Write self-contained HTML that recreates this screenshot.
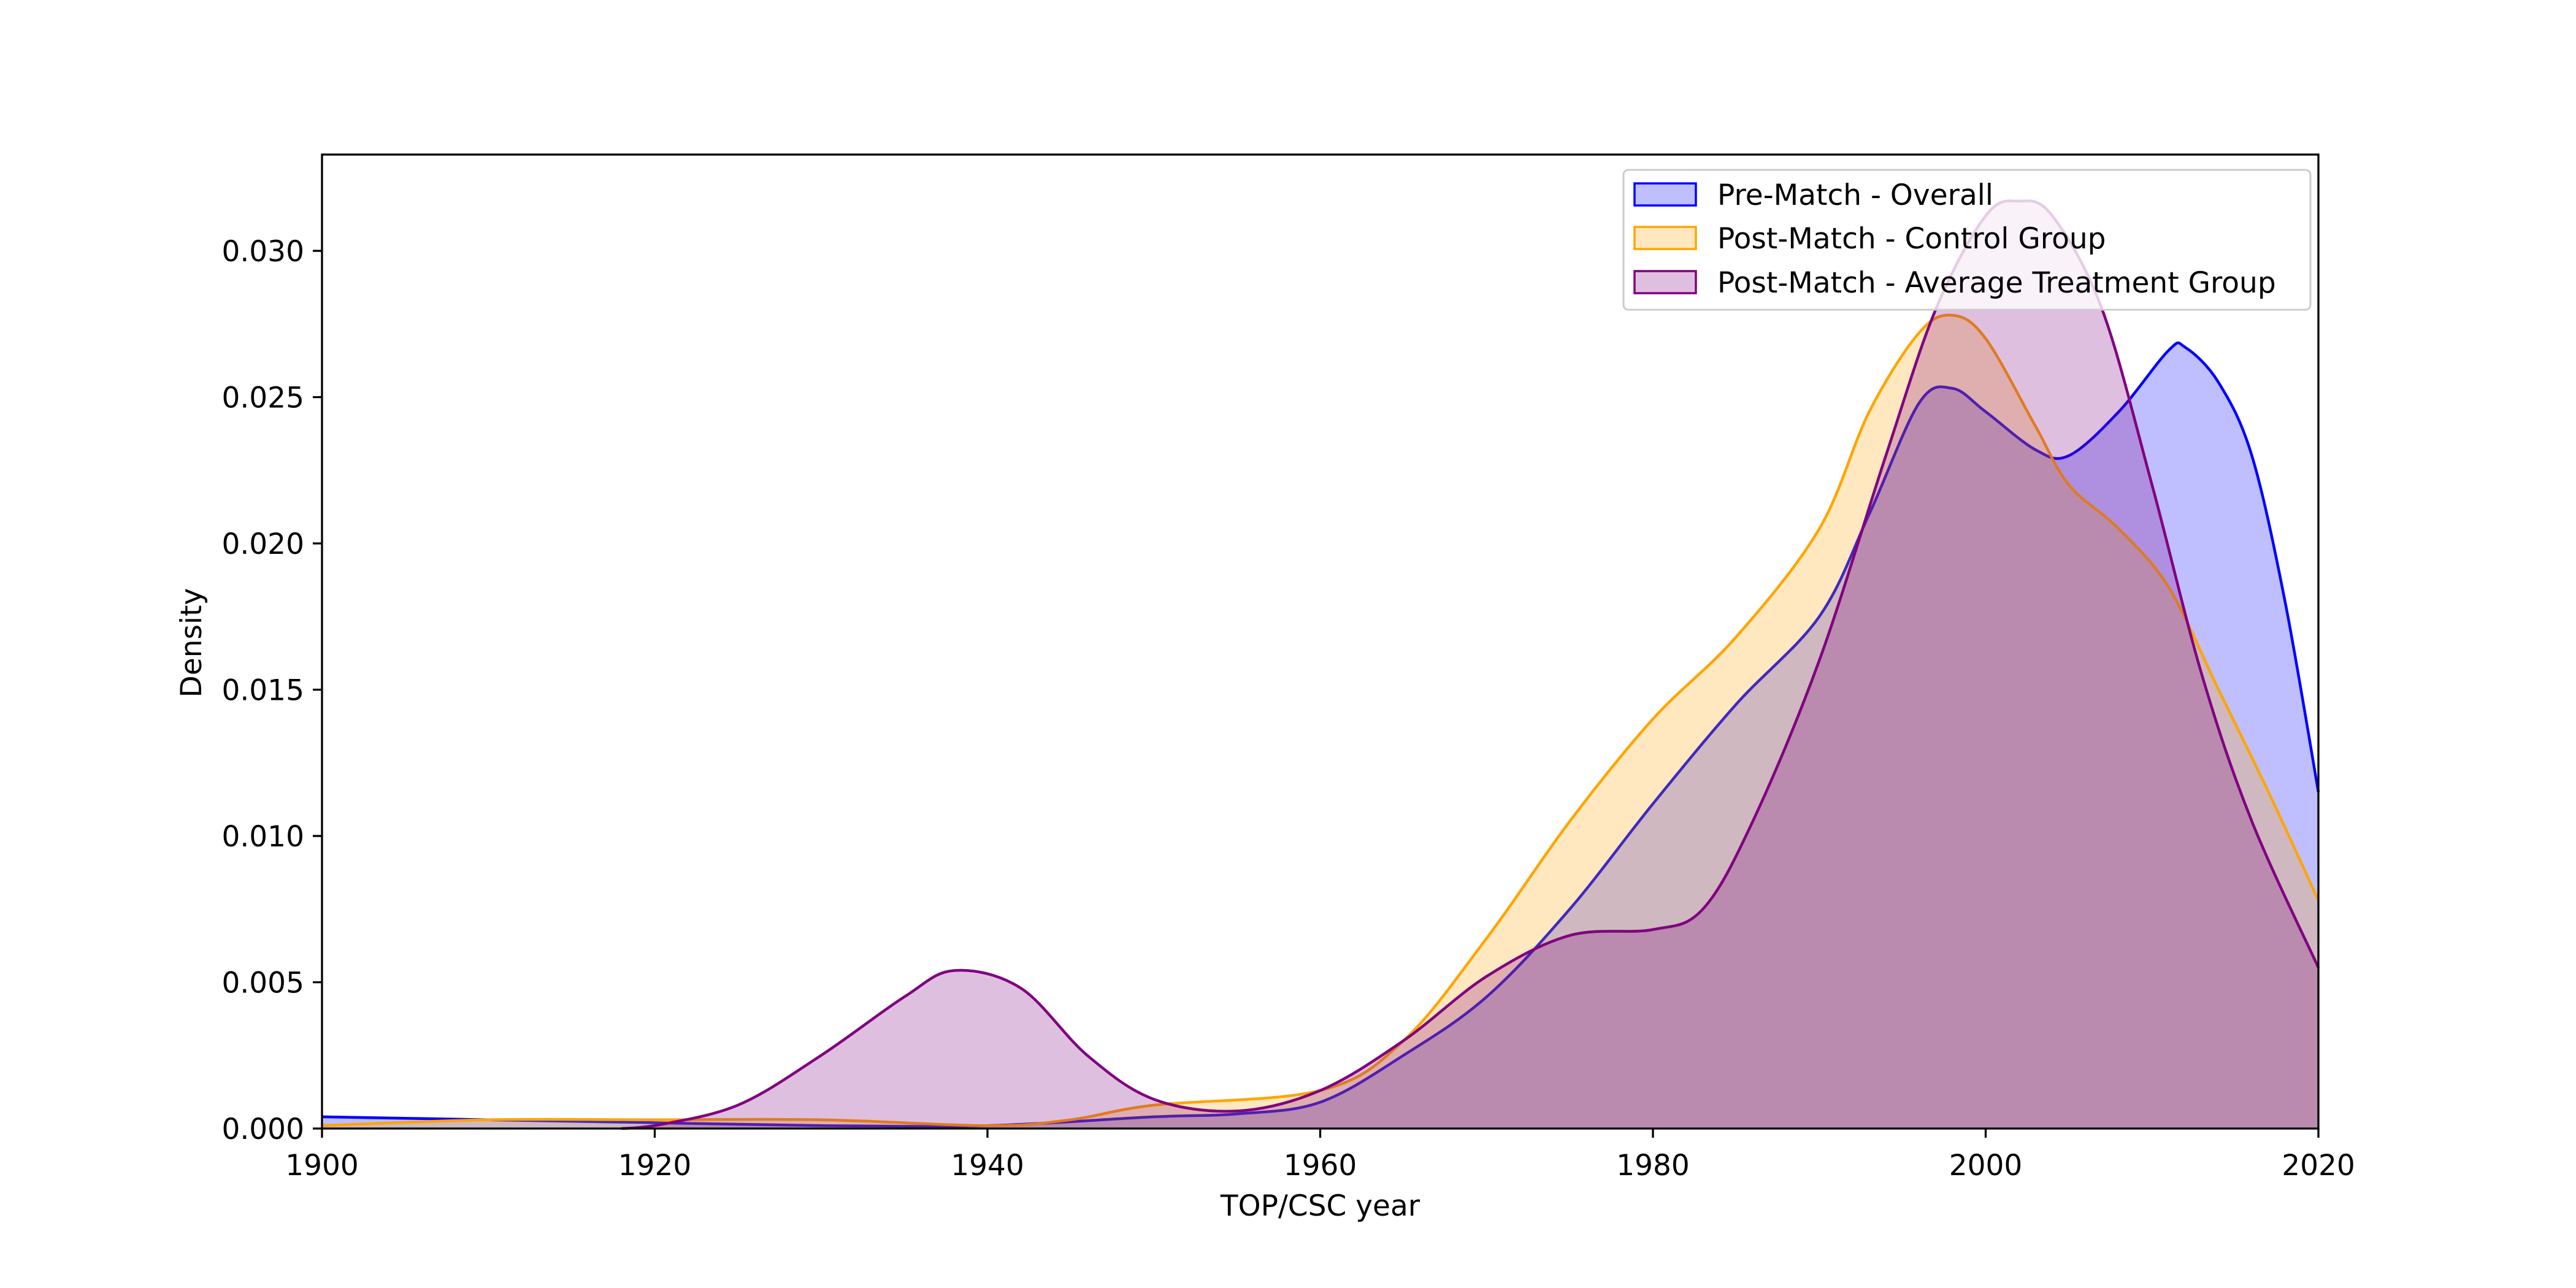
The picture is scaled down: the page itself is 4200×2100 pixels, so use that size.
<!DOCTYPE html>
<html><head><meta charset="utf-8"><style>
html,body{margin:0;padding:0;background:#fff}
svg{display:block;font-family:"DejaVu Sans","Liberation Sans",sans-serif}
</style></head><body>
<svg id="chart" width="4200" height="2100" viewBox="0 0 4200 2100">
<rect width="4200" height="2100" fill="#fff"/>
<g id="plot"></g>
<g id="axes"></g>
</svg>
<script>
const xTicks = [1900,1920,1940,1960,1980,2000,2020];
const yTicks = [0,0.005,0.010,0.015,0.020,0.025,0.030];
const yTickLabels = ["0.000","0.005","0.010","0.015","0.020","0.025","0.030"];
const blueYears = [1900,1910,1920,1930,1940,1950,1955,1960,1965,1970,1975,1980,1985,1990,1993,1996,1998,2000,2003,2005,2008,2011,2012,2014,2016,2018,2020];
const blueVals = [0.0004,0.0003,0.0002,0.0001,0.0001,0.0004,0.0005,0.0009,0.0025,0.0045,0.0075,0.0111,0.0145,0.0175,0.021,0.0248,0.0253,0.0245,0.0232,0.023,0.0245,0.0266,0.0267,0.0255,0.023,0.018,0.0115];
const orangeYears = [1900,1910,1920,1930,1940,1945,1950,1960,1965,1970,1975,1980,1985,1990,1993,1996,1998,2000,2003,2005,2008,2011,2014,2017,2020];
const orangeVals = [0.0001,0.0003,0.0003,0.0003,0.0001,0.0003,0.0008,0.0013,0.003,0.0065,0.0105,0.014,0.0168,0.0205,0.0245,0.0272,0.0278,0.027,0.024,0.022,0.0205,0.0185,0.015,0.0115,0.0078];
const purpleYears = [1918,1920,1925,1930,1935,1938,1942,1946,1950,1955,1960,1965,1970,1975,1980,1983,1986,1990,1994,1997,2000,2002,2004,2007,2010,2013,2016,2020];
const purpleVals = [0.0,0.0001,0.0008,0.0025,0.0045,0.0054,0.0048,0.0025,0.001,0.0006,0.0013,0.003,0.0052,0.0066,0.0068,0.0075,0.0105,0.016,0.023,0.028,0.0312,0.0317,0.0312,0.028,0.022,0.0155,0.0105,0.0055];
const seriesNames = ["Pre-Match - Overall","Post-Match - Control Group","Post-Match - Average Treatment Group"];

const X0=525,X1=3780,Y0=1840,YT=252,Y030=409;
const xMin=1900,xMax=2020,yMax=(Y0-YT)/((Y0-Y030)/0.03);
function sx(v){return X0+(v-xMin)/(xMax-xMin)*(X1-X0);}
function sy(v){return Y0-v/yMax*(Y0-YT);}
const NS="http://www.w3.org/2000/svg";
function mk(t,a){const e=document.createElementNS(NS,t);for(const k in a)e.setAttribute(k,a[k]);return e;}
function smooth(xs,ys){
  const p=xs.map((x,i)=>[sx(x),sy(ys[i])]);
  let d="M"+p[0][0]+","+p[0][1];
  for(let i=0;i<p.length-1;i++){
    const p0=p[i-1]||p[i],p1=p[i],p2=p[i+1],p3=p[i+2]||p2;
    const c1=[p1[0]+(p2[0]-p0[0])/6,Math.min(Y0,p1[1]+(p2[1]-p0[1])/6)];
    const c2=[p2[0]-(p3[0]-p1[0])/6,Math.min(Y0,p2[1]-(p3[1]-p1[1])/6)];
    d+=" C"+c1[0]+","+c1[1]+" "+c2[0]+","+c2[1]+" "+p2[0]+","+p2[1];
  }
  return d;
}
const plot=document.getElementById('plot');
const axes=document.getElementById('axes');
const series=[[blueYears,blueVals,"#0000ff","pre-match-overall"],[orangeYears,orangeVals,"#ffa500","post-match-control"],[purpleYears,purpleVals,"#800080","post-match-treatment"]];
series.forEach(s=>{
  const line=smooth(s[0],s[1]);
  const area=line+" L"+sx(s[0][s[0].length-1])+","+Y0+" L"+sx(s[0][0])+","+Y0+" Z";
  const a=mk('path',{d:area,fill:s[2],'fill-opacity':0.25,stroke:'none'});
  
  
  plot.appendChild(a);
  const l=mk('path',{d:line,fill:'none',stroke:s[2],'stroke-width':4.5});
  
  
  plot.appendChild(l);
});
const frame=mk('rect',{x:X0,y:YT,width:X1-X0,height:Y0-YT,fill:'none',stroke:'#000','stroke-width':3.3});


axes.appendChild(frame);
xTicks.forEach(t=>{
  const tk=mk('line',{x1:sx(t),x2:sx(t),y1:Y0,y2:Y0+15,stroke:'#000','stroke-width':3.3});
  
  
  axes.appendChild(tk);
  const tx=mk('text',{x:sx(t),y:Y0+76,'text-anchor':'middle','font-size':47});
  tx.textContent=t;
  
  
  axes.appendChild(tx);
});
yTicks.forEach((t,i)=>{
  const tk=mk('line',{x1:X0-15,x2:X0,y1:sy(t),y2:sy(t),stroke:'#000','stroke-width':3.3});
  
  
  axes.appendChild(tk);
  const tx=mk('text',{x:X0-29,y:sy(t)+17,'text-anchor':'end','font-size':47});
  tx.textContent=yTickLabels[i];
  
  
  axes.appendChild(tx);
});
const xl=mk('text',{x:(X0+X1)/2,y:1982,'text-anchor':'middle','font-size':47});
xl.textContent="TOP/CSC year";


axes.appendChild(xl);
const yl=mk('text',{x:0,y:0,'text-anchor':'middle','font-size':47,transform:'translate(328,1048) rotate(-90)'});
yl.textContent="Density";


axes.appendChild(yl);
const lg=mk('g',{});


axes.appendChild(lg);
const lb=mk('rect',{x:2647,y:277,width:1120,height:228,rx:8,fill:'#fff','fill-opacity':0.8,stroke:'#ccc','stroke-width':3});


lg.appendChild(lb);
[317,388,460].forEach((yy,i)=>{
  const sw=mk('rect',{x:2665,y:yy-18,width:100,height:36,fill:series[i][2],'fill-opacity':0.25,stroke:series[i][2],'stroke-width':3.5});
  
  
  lg.appendChild(sw);
  const tx=mk('text',{x:2800,y:yy+17,'font-size':47});
  tx.textContent=seriesNames[i];
  
  
  lg.appendChild(tx);
});
</script>
</body></html>
